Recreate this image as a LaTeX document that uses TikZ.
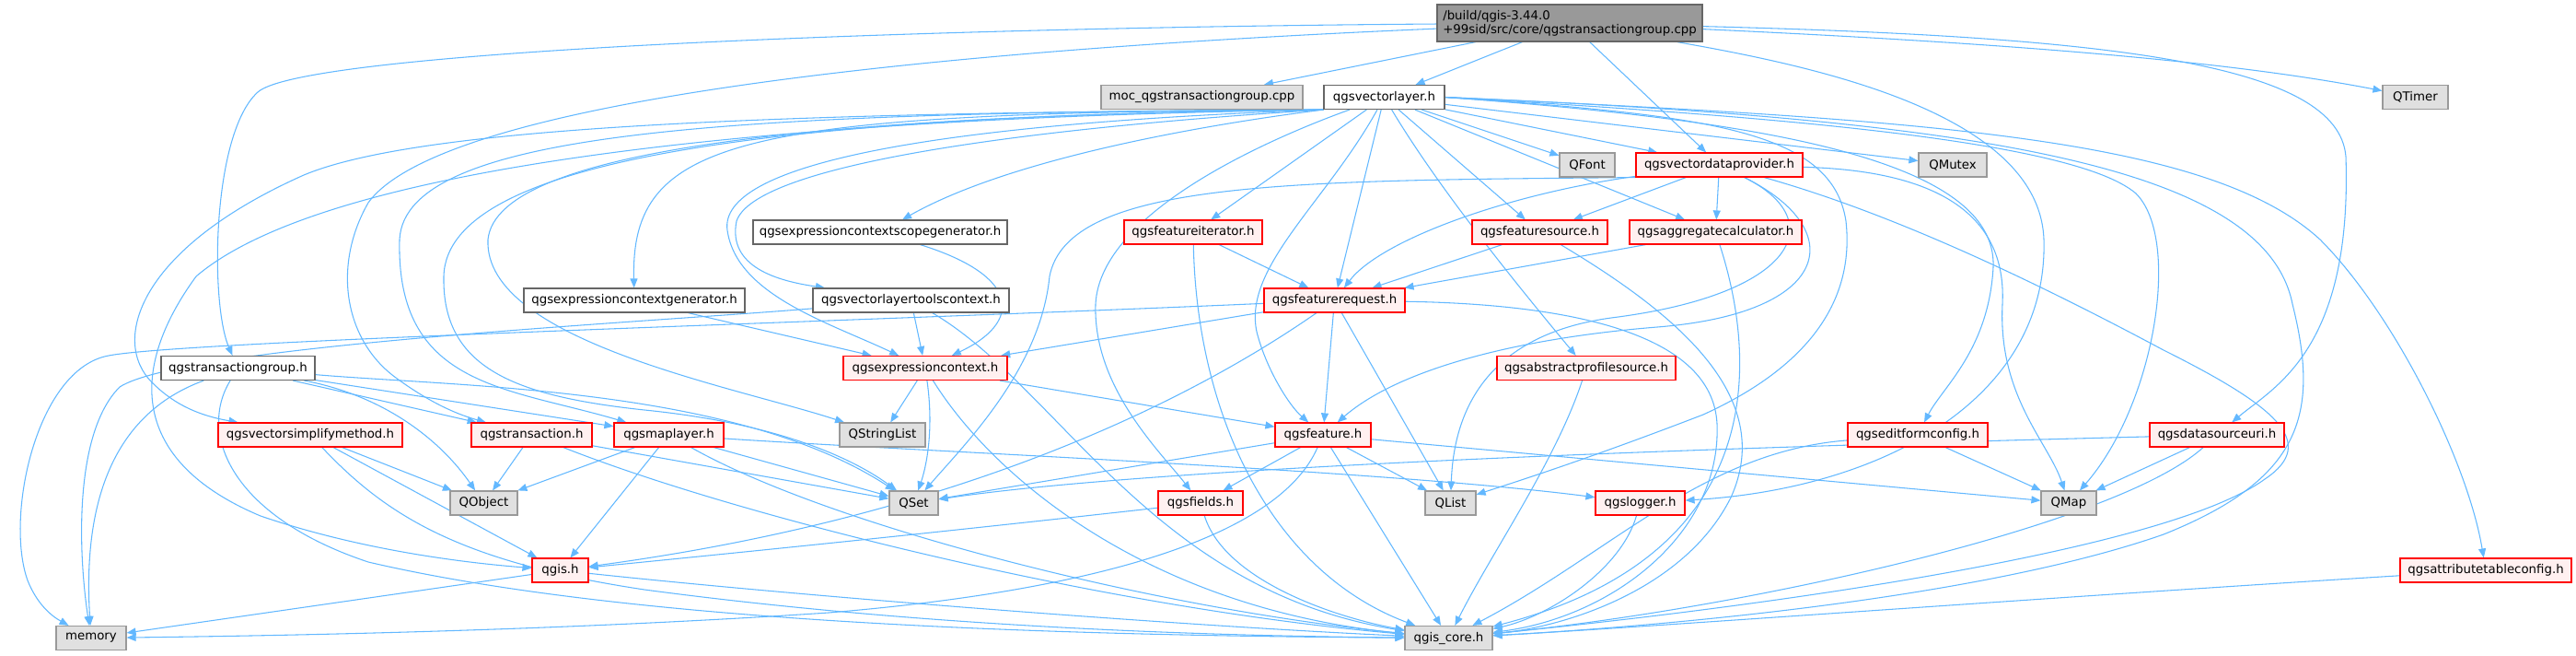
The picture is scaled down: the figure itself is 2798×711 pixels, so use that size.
\documentclass[tikz,border=0pt]{standalone}
\usepackage{fontspec}
\setmainfont{DejaVu Sans}
\usetikzlibrary{arrows.meta}
\pgfdeclarelayer{edgelayer}
\pgfsetlayers{edgelayer,main}
\definecolor{edgec}{HTML}{63B8FF}
\definecolor{rootfill}{HTML}{999999}
\definecolor{darkb}{HTML}{666666}
\definecolor{grayfill}{HTML}{E0E0E0}
\definecolor{grayb}{HTML}{999999}
\definecolor{redfill}{HTML}{FFF0F0}
\definecolor{redb}{HTML}{FF0000}
\tikzset{
  nb/.style={rectangle, inner sep=0pt, line width=0.9pt, font=\fontsize{10}{11.5}\selectfont, text=black, minimum height=19.5pt},
  rootbox/.style={nb, fill=rootfill, draw=darkb, align=left, minimum height=30pt},
  whitebox/.style={nb, fill=white, draw=darkb},
  graybox/.style={nb, fill=grayfill, draw=grayb},
  redbox/.style={nb, fill=redfill, draw=redb},
  dep/.style={draw=edgec, line width=0.8pt, -{Triangle[length=7.5pt,width=6pt]}},
}
\begin{document}
\begin{tikzpicture}[x=0.75pt,y=-0.75pt]
\useasboundingbox (0,0) rectangle (2798,711);
% nodes
\node[rootbox, minimum width=216pt] (root) at (1705,25) {/build/qgis-3.44.0\\+99sid/src/core/qgstransactiongroup.cpp};
\node[graybox, minimum width=164.25pt] (moc) at (1305.5,105.5) {moc\_qgstransactiongroup.cpp};
\node[whitebox, minimum width=98.25pt] (vl) at (1503.5,105.5) {qgsvectorlayer.h};
\node[graybox, minimum width=53.25pt] (QTimer) at (2623.5,105.5) {QTimer};
\node[graybox, minimum width=45pt] (QFont) at (1724,179) {QFont};
\node[redbox, minimum width=135.75pt] (vdp) at (1867.5,179) {qgsvectordataprovider.h};
\node[graybox, minimum width=55.5pt] (QMutex) at (2121,179) {QMutex};
\node[whitebox, minimum width=207pt] (scopegen) at (956,252) {qgsexpressioncontextscopegenerator.h};
\node[redbox, minimum width=112.5pt] (fiter) at (1296,252) {qgsfeatureiterator.h};
\node[redbox, minimum width=110.25pt] (fsrc) at (1672.5,252) {qgsfeaturesource.h};
\node[redbox, minimum width=140.25pt] (agg) at (1863.5,252) {qgsaggregatecalculator.h};
\node[whitebox, minimum width=180pt] (ctxgen) at (689,326) {qgsexpressioncontextgenerator.h};
\node[whitebox, minimum width=159.75pt] (tools) at (989.5,326) {qgsvectorlayertoolscontext.h};
\node[redbox, minimum width=114.75pt] (freq) at (1449.5,326) {qgsfeaturerequest.h};
\node[whitebox, minimum width=125.25pt] (tgh) at (258.5,399.5) {qgstransactiongroup.h};
\node[redbox, minimum width=133.5pt] (ctx) at (1005,399.5) {qgsexpressioncontext.h};
\node[redbox, minimum width=145.5pt] (aps) at (1723,399.5) {qgsabstractprofilesource.h};
\node[redbox, minimum width=150pt] (vsm) at (337,472) {qgsvectorsimplifymethod.h};
\node[redbox, minimum width=98.25pt] (tr) at (577.5,472) {qgstransaction.h};
\node[redbox, minimum width=89.25pt] (ml) at (726.5,472) {qgsmaplayer.h};
\node[graybox, minimum width=69.75pt] (QStringList) at (958.5,472) {QStringList};
\node[redbox, minimum width=78pt] (feat) at (1437,472) {qgsfeature.h};
\node[redbox, minimum width=114pt] (efc) at (2083,472) {qgseditformconfig.h};
\node[redbox, minimum width=109.5pt] (dsu) at (2408,472) {qgsdatasourceuri.h};
\node[graybox, minimum width=54.75pt] (QObject) at (525.5,546) {QObject};
\node[graybox, minimum width=39.75pt] (QSet) at (992.5,546) {QSet};
\node[redbox, minimum width=69pt] (fields) at (1304,546) {qgsfields.h};
\node[graybox, minimum width=41.25pt] (QList) at (1575.5,546) {QList};
\node[redbox, minimum width=72.75pt] (logger) at (1781.5,546) {qgslogger.h};
\node[graybox, minimum width=45pt] (QMap) at (2247,546) {QMap};
\node[redbox, minimum width=45.75pt] (qgis) at (608.5,619) {qgis.h};
\node[redbox, minimum width=139.5pt] (atc) at (2700,619) {qgsattributetableconfig.h};
\node[graybox, minimum width=57pt] (memory) at (99,692.5) {memory};
\node[graybox, minimum width=71.25pt] (core) at (1573.5,692.5) {qgis\_core.h};
\begin{pgfonlayer}{edgelayer}
% root edges
\draw[dep] (root) -- (moc);
\draw[dep] (root) -- (vl);
\draw[dep] (root) -- (vdp);
\draw[dep] (root) .. controls (2250,50) and (2450,72) .. (QTimer);
\draw[dep] (root) .. controls (2300,40) and (2540,70) .. (2548,170) .. controls (2555,380) and (2470,420) .. (dsu);
\draw[dep] (root) .. controls (1960,70) and (2215,120) .. (2220,260) .. controls (2225,430) and (2050,530) .. (logger);
\draw[dep] (root) .. controls (1000,30) and (330,55) .. (280,100) .. controls (230,145) and (228,330) .. (tgh);
\draw[dep] (root) .. controls (1000,55) and (480,110) .. (400,220) .. controls (360,290) and (375,370) .. (430,410) .. controls (460,432) and (490,448) .. (tr);
% vectorlayer edges
\draw[dep] (vl) -- (QFont);
\draw[dep] (vl) -- (vdp);
\draw[dep] (vl) -- (QMutex);
\draw[dep] (vl) -- (fiter);
\draw[dep] (vl) -- (freq);
\draw[dep] (vl) -- (fsrc);
\draw[dep] (vl) -- (agg);
\draw[dep] (vl) .. controls (1440,220) and (1350,290) .. (1365,360) .. controls (1375,400) and (1400,440) .. (feat);
\draw[dep] (vl) .. controls (1380,150) and (1195,230) .. (1190,330) .. controls (1187,420) and (1260,490) .. (fields);
\draw[dep] (vl) .. controls (1560,200) and (1640,300) .. (aps);
\draw[dep] (vl.east) .. controls (1850,125) and (1990,140) .. (2005,240) .. controls (2015,330) and (1960,400) .. (1850,450) .. controls (1720,500) and (1640,525) .. (QList);
\draw[dep] (vl.east) .. controls (1900,125) and (2250,150) .. (2320,210) .. controls (2370,260) and (2340,440) .. (QMap);
\draw[dep] (vl.east) .. controls (1900,130) and (2170,170) .. (2165,290) .. controls (2160,380) and (2110,420) .. (efc);
\draw[dep] (vl.east) .. controls (2100,130) and (2400,150) .. (2520,260) .. controls (2600,340) and (2680,500) .. (atc);
\draw[dep] (vl.east) .. controls (2150,130) and (2460,180) .. (2490,330) .. controls (2520,450) and (2500,520) .. (2350,580) .. controls (2150,650) and (1800,680) .. (core);
\draw[dep] (vl.south west) .. controls (850,125) and (485,170) .. (482,300) .. controls (480,400) and (560,430) .. (700,445) .. controls (850,460) and (930,500) .. (QSet);
\draw[dep] (vl.south west) .. controls (900,125) and (540,160) .. (530,260) .. controls (525,370) and (800,420) .. (QStringList);
\draw[dep] (vl.south west) .. controls (800,122) and (440,140) .. (434,260) .. controls (430,420) and (550,420) .. (ml);
\draw[dep] (vl.south west) .. controls (700,130) and (330,200) .. (213,300) .. controls (140,400) and (140,500) .. (283,560) .. controls (400,600) and (520,612) .. (qgis);
\draw[dep] (vl.south west) .. controls (800,122) and (450,140) .. (330,190) .. controls (150,270) and (120,370) .. (165,415) .. controls (185,435) and (210,450) .. (vsm);
\draw[dep] (vl.south west) .. controls (1350,130) and (1110,165) .. (scopegen);
\draw[dep] (vl.south west) .. controls (800,122) and (685,150) .. (ctxgen);
\draw[dep] (vl.south west) .. controls (1100,140) and (820,180) .. (800,240) .. controls (790,290) and (845,305) .. (tools);
\draw[dep] (vl.south west) .. controls (1000,135) and (780,180) .. (790,250) .. controls (800,320) and (900,350) .. (ctx);
% vectordataprovider edges
\draw[dep] (vdp) -- (fsrc);
\draw[dep] (vdp) -- (agg);
\draw[dep] (vdp) .. controls (1640,210) and (1500,260) .. (freq);
\draw[dep] (vdp) .. controls (1990,240) and (1950,320) .. (1750,345) .. controls (1640,360) and (1580,420) .. (QList);
\draw[dep] (vdp) .. controls (2010,250) and (1990,340) .. (1800,355) .. controls (1650,367) and (1520,400) .. (feat);
\draw[dep] (vdp.south west) .. controls (1400,196) and (1160,196) .. (1140,300) .. controls (1130,400) and (1050,480) .. (QSet);
\draw[dep] (vdp) .. controls (2100,185) and (2180,230) .. (2175,330) .. controls (2170,430) and (2225,480) .. (QMap);
\draw[dep] (vdp) .. controls (2050,230) and (2200,300) .. (2350,380) .. controls (2470,440) and (2520,480) .. (2460,520) .. controls (2350,600) and (1900,660) .. (core);
% other edges
\draw[dep] (fiter) -- (freq);
\draw[dep] (fsrc) -- (freq);
\draw[dep] (agg) -- (freq);
\draw[dep] (fiter) .. controls (1300,450) and (1380,620) .. (core);
\draw[dep] (fsrc) .. controls (1820,340) and (1930,430) .. (1880,540) .. controls (1830,640) and (1700,680) .. (core);
\draw[dep] (agg) .. controls (1905,380) and (1930,600) .. (core);
\draw[dep] (scopegen) .. controls (1110,300) and (1110,350) .. (ctx);
\draw[dep] (ctxgen) -- (ctx);
\draw[dep] (tools) -- (ctx);
\draw[dep] (tools) .. controls (700,350) and (200,375) .. (130,420) .. controls (80,470) and (85,600) .. (memory);
\draw[dep] (tools) .. controls (1150,420) and (1250,640) .. (core);
\draw[dep] (freq) -- (ctx);
\draw[dep] (freq) -- (feat);
\draw[dep] (freq) -- (QList);
\draw[dep] (freq) .. controls (1300,430) and (1050,560) .. (qgis);
\draw[dep] (freq) .. controls (900,350) and (200,370) .. (118,386) .. controls (40,400) and (5,560) .. (30,630) .. controls (40,655) and (55,668) .. (memory);
\draw[dep] (freq) .. controls (1700,330) and (1860,360) .. (1865,460) .. controls (1870,580) and (1750,670) .. (core);
\draw[dep] (tgh) .. controls (120,450) and (90,550) .. (memory);
\draw[dep] (tgh) -- (tr);
\draw[dep] (tgh) -- (ml);
\draw[dep] (tgh) .. controls (420,430) and (480,480) .. (QObject);
\draw[dep] (tgh) .. controls (500,420) and (800,420) .. (QSet);
\draw[dep] (tgh) .. controls (215,470) and (250,560) .. (400,610) .. controls (700,680) and (1200,690) .. (core);
\draw[dep] (ctx) -- (QStringList);
\draw[dep] (ctx) .. controls (1015,470) and (1005,510) .. (QSet);
\draw[dep] (ctx) -- (feat);
\draw[dep] (ctx) .. controls (1080,520) and (1250,660) .. (core);
\draw[dep] (aps) .. controls (1690,500) and (1620,600) .. (core);
\draw[dep] (vsm) -- (QObject);
\draw[dep] (vsm) -- (qgis);
\draw[dep] (vsm) .. controls (420,560) and (500,610) .. (700,640) .. controls (1000,680) and (1300,690) .. (core);
\draw[dep] (tr) -- (QObject);
\draw[dep] (tr) -- (QSet);
\draw[dep] (tr) .. controls (800,560) and (1200,660) .. (core);
\draw[dep] (ml) -- (QObject);
\draw[dep] (ml) -- (qgis);
\draw[dep] (ml) -- (QSet);
\draw[dep] (ml) .. controls (900,570) and (1250,660) .. (core);
\draw[dep] (ml) .. controls (1000,490) and (1500,510) .. (logger);
\draw[dep] (feat) -- (QSet);
\draw[dep] (feat) -- (fields);
\draw[dep] (feat) -- (QList);
\draw[dep] (feat) -- (QMap);
\draw[dep] (feat) -- (core);
\draw[dep] (feat) .. controls (1390,580) and (1200,640) .. (900,665) .. controls (600,685) and (300,690) .. (memory);
\draw[dep] (efc) -- (QMap);
\draw[dep] (efc) .. controls (1850,490) and (1750,600) .. (core);
\draw[dep] (dsu) -- (QMap);
\draw[dep] (dsu) .. controls (2100,480) and (1300,500) .. (QSet);
\draw[dep] (dsu) .. controls (2300,570) and (1900,660) .. (core);
\draw[dep] (fields) .. controls (1000,580) and (800,600) .. (qgis);
\draw[dep] (fields) .. controls (1330,630) and (1450,670) .. (core);
\draw[dep] (logger) .. controls (1760,620) and (1680,670) .. (core);
\draw[dep] (atc) .. controls (2200,650) and (1800,680) .. (core);
\draw[dep] (qgis) -- (memory);
\draw[dep] (qgis) .. controls (900,650) and (1300,680) .. (core);
\end{pgfonlayer}
\end{tikzpicture}
\end{document}
